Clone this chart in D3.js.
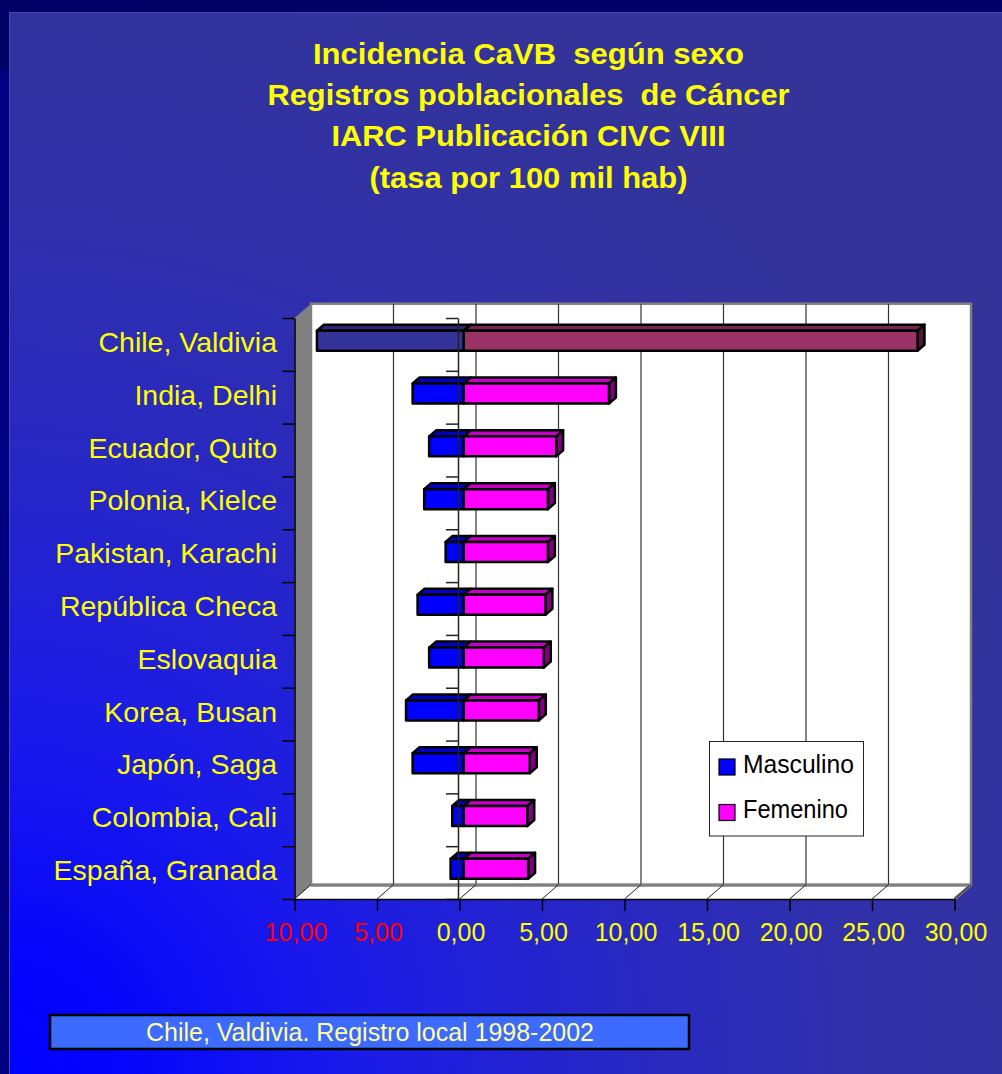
<!DOCTYPE html>
<html><head><meta charset="utf-8">
<script src="https://cdn.jsdelivr.net/npm/d3@7"></script>
<style>html,body{margin:0;padding:0;background:#000066;}svg{display:block;}text{white-space:pre;}</style>
</head><body>
<script>
const categories = ["Chile, Valdivia","India, Delhi","Ecuador, Quito","Polonia, Kielce","Pakistan, Karachi","República Checa","Eslovaquia","Korea, Busan","Japón, Saga","Colombia, Cali","España, Granada"];
const masculino = [8.9, 3.1, 2.1, 2.4, 1.1, 2.8, 2.1, 3.5, 3.1, 0.7, 0.8];
const femenino  = [27.5, 8.8, 5.6, 5.1, 5.1, 4.95, 4.85, 4.55, 4.0, 3.85, 3.9];
const seriesNames = ["Masculino","Femenino"];
const tickValues = [-10,-5,0,5,10,15,20,25,30];
const titleLines = ["Incidencia CaVB  según sexo","Registros poblacionales  de Cáncer","IARC Publicación CIVC VIII","(tasa por 100 mil hab)"];
const footnote = "Chile, Valdivia. Registro local 1998-2002";

const W=1002,H=1074;
const svg = d3.select("body").append("svg").attr("width",W).attr("height",H);
const defs = svg.append("defs");
const rg = defs.append("radialGradient").attr("id","bg").attr("gradientUnits","userSpaceOnUse")
  .attr("cx",0).attr("cy",H).attr("r",1150).attr("fx",0).attr("fy",H);
[[0,"#0000ff"],[0.1,"#0505fc"],[0.3,"#1a1aea"],[0.55,"#2828c2"],[0.75,"#3030aa"],[1,"#333399"]]
  .forEach(([o,c])=>rg.append("stop").attr("offset",o).attr("stop-color",c));

svg.append("rect").attr("width",W).attr("height",H).attr("fill","#000066");
svg.append("rect").attr("x",0).attr("y",70).attr("width",10).attr("height",H-70).attr("fill","#000080");
svg.append("rect").attr("x",9).attr("y",12).attr("width",W-9).attr("height",H-12).attr("fill","url(#bg)");
svg.append("path").attr("d",`M9.5,${H} V12.5 H${W}`).attr("fill","none").attr("stroke","#4848b8").attr("stroke-width",1);

// title
const tW=[431,522,394,318];
svg.append("g").selectAll("text").data(titleLines).join("text")
  .attr("x",528.5).attr("y",(d,i)=>64+i*41.2).attr("text-anchor","middle").attr("xml:space","preserve")
  .attr("font-family","Liberation Sans, Arial, sans-serif").attr("font-weight","bold").attr("font-size",30)
  .attr("fill","#ffff00").attr("textLength",(d,i)=>tW[i]).attr("lengthAdjust","spacingAndGlyphs").text(d=>d);

// scales
const xF = d3.scaleLinear().domain([-10,30]).range([294.5,954.5]);
const DX=16.5, DY=-14.3;
const yF = d3.scaleBand().domain(categories).range([318,899]);
const yLin = d3.scaleLinear().domain([0,categories.length]).range([318,899]);
const x0=xF.range()[0], x1=xF.range()[1], yT=318, yB=899;

// left wall
svg.append("path").attr("d",`M${x0},${yT} L${x0+DX},${yT+DY} L${x0+DX},${yB+DY} L${x0},${yB} Z`).attr("fill","#808080");
// back wall
svg.append("rect").attr("x",x0+DX).attr("y",yT+DY).attr("width",x1-x0).attr("height",yB-yT)
  .attr("fill","#ffffff").attr("stroke","#808080").attr("stroke-width",2.5);
// gridlines
svg.append("g").selectAll("line").data(tickValues.slice(1,-1)).join("line")
  .attr("x1",d=>xF(d)+DX).attr("x2",d=>xF(d)+DX).attr("y1",yT+DY).attr("y2",yB+DY)
  .attr("stroke","#333333").attr("stroke-width",1.2);
// floor
svg.append("path").attr("d",`M${x0},${yB} L${x1},${yB} L${x1+DX},${yB+DY} L${x0+DX},${yB+DY} Z`)
  .attr("fill","#ffffff");
svg.append("line").attr("x1",x0+DX).attr("x2",x1+DX).attr("y1",yB+DY+0.5).attr("y2",yB+DY+0.5).attr("stroke","#808080").attr("stroke-width",3);
svg.append("line").attr("x1",x1).attr("y1",yB).attr("x2",x1+DX).attr("y2",yB+DY).attr("stroke","#808080").attr("stroke-width",3);
svg.append("g").selectAll("line").data(tickValues).join("line")
  .attr("x1",d=>xF(d)).attr("y1",yB).attr("x2",d=>xF(d)+DX).attr("y2",yB+DY)
  .attr("stroke","#222").attr("stroke-width",1);

// bars
const f1=0.26, f2=0.68, bh=20, dd=f2-f1;
function shade(c,k){const r=d3.rgb(c);return d3.rgb(r.r*k,r.g*k,r.b*k).formatHex();}
const bars = svg.append("g");
categories.forEach((cat,i)=>{
  const cy = yF(cat)+yF.bandwidth()/2 + f1*DY;
  const yt=cy-bh/2, yb=cy+bh/2;
  const segs = [
    {a:-masculino[i], b:0, c: i===0?"#333399":"#0000ff"},
    {a:0, b:femenino[i], c: i===0?"#993366":"#ff00ff"}
  ];
  segs.forEach((s,j)=>{
    const xa=xF(s.a)+f1*DX, xb=xF(s.b)+f1*DX;
    const g=bars.append("g").attr("stroke","#000").attr("stroke-width",2.5).attr("stroke-linejoin","round");
    g.append("path").attr("d",`M${xa},${yt} L${xa+dd*DX},${yt+dd*DY} L${xb+dd*DX},${yt+dd*DY} L${xb},${yt} Z`).attr("fill",shade(s.c,0.78));
    if(j===1) g.append("path").attr("d",`M${xb},${yt} L${xb+dd*DX},${yt+dd*DY} L${xb+dd*DX},${yb+dd*DY} L${xb},${yb} Z`).attr("fill",shade(s.c,0.5));
    g.append("rect").attr("x",xa).attr("y",yt).attr("width",xb-xa).attr("height",bh).attr("fill",s.c);
  });
});

// zero category axis (front plane)
const zAxis = svg.append("g").attr("transform",`translate(${xF(0)-1.5},0)`)
  .call(d3.axisLeft(yLin).tickValues(d3.range(categories.length+1)).tickFormat("").tickSize(12).tickSizeOuter(0));
zAxis.selectAll("path,line").attr("stroke","#222").attr("stroke-width",1.5);
// left axis
const lAxis = svg.append("g").attr("transform",`translate(${x0},0)`)
  .call(d3.axisLeft(yLin).tickValues(d3.range(categories.length+1)).tickFormat("").tickSize(12).tickSizeOuter(0));
lAxis.selectAll("path,line").attr("stroke","#000").attr("stroke-width",1.5);
// bottom axis
const bAxis = svg.append("g").attr("transform",`translate(0,${yB})`)
  .call(d3.axisBottom(xF).tickValues(tickValues).tickSize(12).tickSizeOuter(0).tickPadding(12)
    .tickFormat(d=>d3.format(".2f")(Math.abs(d)).replace(".",",")));
bAxis.selectAll("path,line").attr("stroke","#000").attr("stroke-width",1.5);
bAxis.selectAll("text").attr("font-family","Liberation Sans, Arial, sans-serif").attr("font-size",25)
  .attr("fill",d=>d<0?"#ff0000":"#ffff00").attr("dx",1).attr("dy","0.71em").attr("y",24);

// category labels
svg.append("g").selectAll("text").data(categories).join("text")
  .attr("x",277).attr("y",d=>yF(d)+yF.bandwidth()/2+7.5).attr("text-anchor","end")
  .attr("font-family","Liberation Sans, Arial, sans-serif").attr("font-size",28.5).attr("fill","#ffff00").text(d=>d);

// legend
const lg = svg.append("g");
lg.append("rect").attr("x",709.5).attr("y",741.5).attr("width",154).attr("height",94.5).attr("fill","#fff").attr("stroke","#222").attr("stroke-width",1);
const lcol=["#0000ff","#ff00ff"];
seriesNames.forEach((n,i)=>{
  lg.append("rect").attr("x",719).attr("y",759+i*45.5).attr("width",16).attr("height",16).attr("fill",lcol[i]).attr("stroke","#000").attr("stroke-width",1.2);
  lg.append("text").attr("x",743).attr("y",773.3+i*45).attr("font-family","Liberation Sans, Arial, sans-serif")
    .attr("font-size",25).attr("fill","#000").attr("textLength",i?105:111).attr("lengthAdjust","spacingAndGlyphs").text(n);
});

// footnote box
svg.append("rect").attr("x",50).attr("y",1015).attr("width",639).attr("height",34).attr("fill","#3d6bff").attr("stroke","#000").attr("stroke-width",2.5);
svg.append("text").attr("x",370).attr("y",1041).attr("text-anchor","middle").attr("font-family","Liberation Sans, Arial, sans-serif")
  .attr("font-size",25).attr("fill","#ffff99").attr("textLength",448).attr("lengthAdjust","spacingAndGlyphs").text(footnote);
</script>
</body></html>
